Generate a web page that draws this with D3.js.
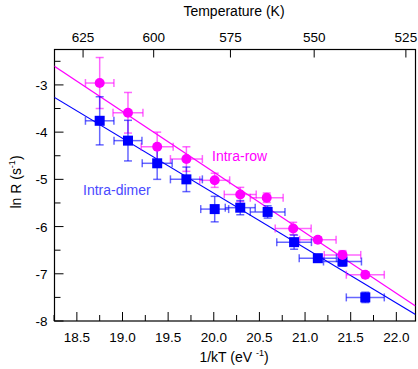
<!DOCTYPE html>
<html>
<head>
<meta charset="utf-8">
<script src="https://cdn.jsdelivr.net/npm/d3@7"></script>
<style>
	body { margin: 0; background: #fff; }
	svg text { font-family: "Liberation Sans", Arial, sans-serif; }
</style>
</head>
<body>
<div id="chart"></div>
<script>
// Intra-row (magenta circles)
const rowX    = [18.75, 19.06, 19.38, 19.70, 20.01, 20.29, 20.58, 20.87, 21.14, 21.41, 21.66];
const rowY    = [-2.96, -3.59, -4.31, -4.57, -5.02, -5.32, -5.39, -6.04, -6.28, -6.60, -7.02];
const rowXErr = [0.156, 0.164, 0.175, 0.175, 0.164, 0.175, 0.18, 0.197, 0.20, 0.20, 0.208];
const rowYErr = [0.54, 0.43, 0.31, 0.26, 0.15, 0.15, 0.10, 0.13, 0.06, 0.09, 0.06];

// Intra-dimer (blue squares)
const dimX    = [18.75, 19.06, 19.38, 19.70, 20.01, 20.29, 20.59, 20.88, 21.14, 21.41, 21.66];
const dimY    = [-3.76, -4.18, -4.66, -5.00, -5.63, -5.60, -5.69, -6.33, -6.67, -6.74, -7.50];
const dimXErr = [0.156, 0.153, 0.164, 0.175, 0.153, 0.164, 0.19, 0.19, 0.204, 0.208, 0.208];
const dimYErr = [0.51, 0.43, 0.34, 0.26, 0.27, 0.15, 0.13, 0.15, 0.06, 0.10, 0.11];

// linear fits, given as end points [x, y]
const rowFit = [[18.25, -2.60], [22.21, -7.68]];
const dimFit = [[18.25, -3.26], [22.21, -7.86]];

const xTicks = [18.5, 19.0, 19.5, 20.0, 20.5, 21.0, 21.5, 22.0];
const yTicks = [-8, -7, -6, -5, -4, -3];
const tempTicks = [625, 600, 575, 550, 525];

const kB = 8.617e-5; // eV/K

const width = 418, height = 369;
const margin = {top: 49.5, right: 2.5, bottom: 48, left: 54.5};

const svg = d3.select("#chart").append("svg")
	.attr("width", width)
	.attr("height", height);

const x = d3.scaleLinear().domain([18.255, 22.21]).range([margin.left, width - margin.right]);
const y = d3.scaleLinear().domain([-8, -2.25]).range([height - margin.bottom, margin.top]);

const x0 = x.range()[0], x1 = x.range()[1];
const y0 = y.range()[0], y1 = y.range()[1];

// clip so the fit lines stop at the frame
svg.append("clipPath").attr("id", "plot")
	.append("rect").attr("x", x0).attr("y", y1).attr("width", x1 - x0).attr("height", y0 - y1);

// bottom axis: major + minor ticks pointing in
const bottomAxis = svg.append("g");
d3.range(18.25, 22.21, 0.25).forEach(v => {
	const major = xTicks.some(t => Math.abs(t - v) < 1e-6);
	bottomAxis.append("line")
		.attr("x1", x(v)).attr("x2", x(v))
		.attr("y1", y0).attr("y2", y0 - (major ? 9 : 6))
		.attr("stroke", "#000");
});
bottomAxis.selectAll("text").data(xTicks).join("text")
	.attr("x", d => x(d)).attr("y", y0 + 21)
	.attr("text-anchor", "middle")
	.attr("font-size", 13.5)
	.text(d => d.toFixed(1));

// left axis
const leftAxis = svg.append("g");
d3.range(-8, -2.25, 0.5).forEach(v => {
	const major = Number.isInteger(v);
	leftAxis.append("line")
		.attr("x1", x0).attr("x2", x0 + (major ? 9 : 6))
		.attr("y1", y(v)).attr("y2", y(v))
		.attr("stroke", "#000");
});
leftAxis.selectAll("text").data(yTicks).join("text")
	.attr("x", x0 - 7).attr("y", d => y(d) + 5)
	.attr("text-anchor", "end")
	.attr("font-size", 13.5)
	.text(d => d);

// top axis: temperature in K
const topAxis = svg.append("g");
tempTicks.forEach(T => {
	const px = x(1 / (kB * T));
	topAxis.append("line")
		.attr("x1", px).attr("x2", px)
		.attr("y1", y1).attr("y2", y1 + 8)
		.attr("stroke", "#000");
	topAxis.append("text")
		.attr("x", px).attr("y", y1 - 8)
		.attr("text-anchor", "middle")
		.attr("font-size", 13.5)
		.text(T);
});

// frame
svg.append("rect")
	.attr("x", x0).attr("y", y1)
	.attr("width", x1 - x0).attr("height", y0 - y1)
	.attr("fill", "none").attr("stroke", "#000").attr("stroke-width", 1.2);

// axis titles
svg.append("text")
	.attr("x", 234).attr("y", 15.5)
	.attr("text-anchor", "middle").attr("font-size", 14)
	.text("Temperature (K)");

const xt = svg.append("text")
	.attr("x", 234).attr("y", 361.5)
	.attr("text-anchor", "middle").attr("font-size", 14);
xt.append("tspan").text("1/kT (eV ");
xt.append("tspan").attr("dy", -6).attr("font-size", 9).text("-1");
xt.append("tspan").attr("dy", 6).text(")");

const yt = svg.append("text")
	.attr("transform", `translate(21,${182}) rotate(-90)`)
	.attr("text-anchor", "middle").attr("font-size", 14);
yt.append("tspan").text("ln R (s");
yt.append("tspan").attr("dy", -6).attr("font-size", 9).text("-1");
yt.append("tspan").attr("dy", 6).text(")");

// fit lines
const line = d3.line().x(d => x(d[0])).y(d => y(d[1]));
const fits = svg.append("g").attr("clip-path", "url(#plot)");
fits.append("path").attr("d", line(rowFit)).attr("stroke", "#ff00ff").attr("fill", "none").attr("stroke-width", 1.2);
fits.append("path").attr("d", line(dimFit)).attr("stroke", "#0000ff").attr("fill", "none").attr("stroke-width", 1.2);

// error bars
const drawErrors = (xs, ys, xe, ye, color) => {
	const g = svg.append("g")
		.attr("stroke", color).attr("stroke-width", 1.5).attr("stroke-opacity", 0.6);
	const cap = 4;
	xs.forEach((xv, i) => {
		const cx = x(xv), cy = y(ys[i]);
		const xl = x(xv - xe[i]), xr = x(xv + xe[i]);
		const yTop = y(ys[i] + ye[i]), yBot = y(ys[i] - ye[i]);
		g.append("line").attr("x1", xl).attr("x2", xr).attr("y1", cy).attr("y2", cy);
		g.append("line").attr("x1", xl).attr("x2", xl).attr("y1", cy - cap).attr("y2", cy + cap);
		g.append("line").attr("x1", xr).attr("x2", xr).attr("y1", cy - cap).attr("y2", cy + cap);
		g.append("line").attr("x1", cx).attr("x2", cx).attr("y1", yTop).attr("y2", yBot);
		g.append("line").attr("x1", cx - cap).attr("x2", cx + cap).attr("y1", yTop).attr("y2", yTop);
		g.append("line").attr("x1", cx - cap).attr("x2", cx + cap).attr("y1", yBot).attr("y2", yBot);
	});
};
drawErrors(rowX, rowY, rowXErr, rowYErr, "#ff00ff");
drawErrors(dimX, dimY, dimXErr, dimYErr, "#0000ff");

// markers
svg.append("g").selectAll("rect").data(dimX).join("rect")
	.attr("x", d => x(d) - 5).attr("y", (d, i) => y(dimY[i]) - 5)
	.attr("width", 10).attr("height", 10)
	.attr("fill", "#0000ff");
svg.append("g").selectAll("circle").data(rowX).join("circle")
	.attr("cx", d => x(d)).attr("cy", (d, i) => y(rowY[i]))
	.attr("r", 5)
	.attr("fill", "#ff00ff");

// series labels
svg.append("text")
	.attr("x", 212).attr("y", 161)
	.attr("font-size", 14).attr("fill", "#ff00ff")
	.text("Intra-row");
svg.append("text")
	.attr("x", 83).attr("y", 195)
	.attr("font-size", 14).attr("fill", "#4a4aff")
	.text("Intra-dimer");
</script>
</body>
</html>
